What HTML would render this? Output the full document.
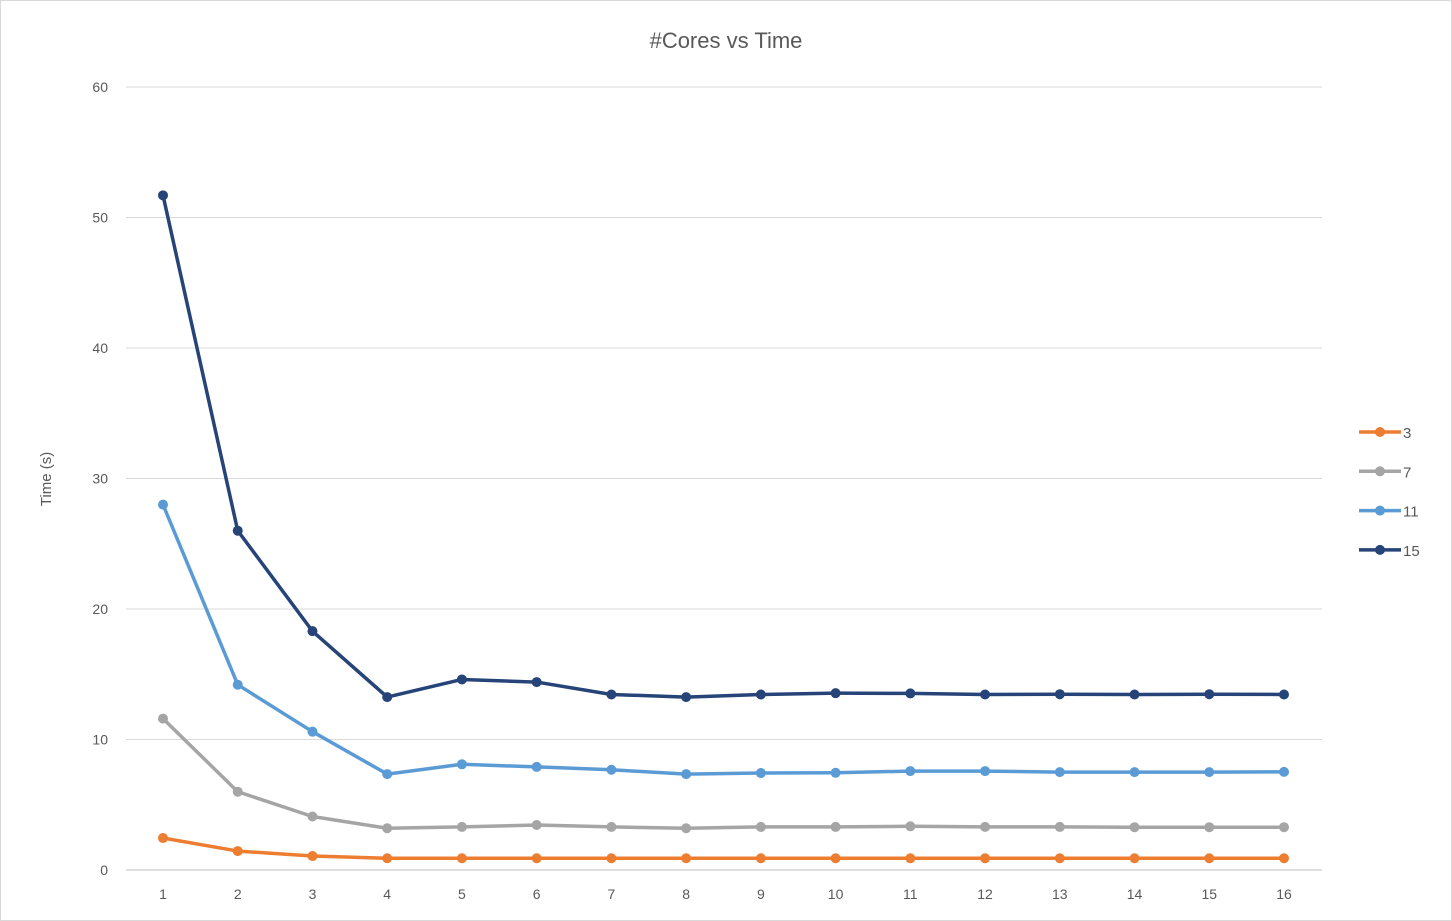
<!DOCTYPE html>
<html><head><meta charset="utf-8"><style>
body{margin:0;background:#fff;}
svg{display:block;font-family:"Liberation Sans",sans-serif;}
</style></head><body>
<svg id="chart" width="1452" height="921">
<rect x="0.5" y="0.5" width="1451" height="920" fill="#fff" stroke="#d9d9d9"/>
<text x="726" y="48" text-anchor="middle" font-size="22" fill="#595959">#Cores vs Time</text>
<text transform="translate(51,479) rotate(-90)" text-anchor="middle" font-size="15" fill="#595959">Time (s)</text>
<g id="grid"></g><g id="series"></g><g id="legend"></g>
</svg>
<script>
const categories=[1,2,3,4,5,6,7,8,9,10,11,12,13,14,15,16];
const yTicks=[0,10,20,30,40,50,60];
const seriesNames=["3","7","11","15"];
const s3=[2.45,1.45,1.07,0.9,0.9,0.9,0.9,0.9,0.9,0.9,0.9,0.9,0.9,0.9,0.9,0.9];
const s7=[11.6,6.0,4.1,3.2,3.3,3.45,3.3,3.2,3.3,3.3,3.35,3.3,3.3,3.28,3.28,3.28];
const s11=[28.0,14.2,10.6,7.35,8.1,7.9,7.68,7.35,7.43,7.45,7.58,7.58,7.5,7.5,7.5,7.52];
const s15=[51.7,26.0,18.3,13.25,14.6,14.4,13.45,13.25,13.45,13.55,13.53,13.45,13.47,13.45,13.47,13.45];
const colors=["#ed7d31","#a5a5a5","#5b9bd5","#264478"];
const NS="http://www.w3.org/2000/svg";
const x0=126,x1=1322,yb=870,yt=87;
const xs=c=>163+(c-1)*(1284-163)/15;
const ys=v=>yb-(v/60)*(yb-yt);
function mk(t,a,p){const e=document.createElementNS(NS,t);for(const k in a)e.setAttribute(k,a[k]);p.appendChild(e);return e;}
const grid=document.getElementById('grid');
yTicks.forEach(t=>{
 const l=mk('line',{x1:x0,x2:x1,y1:ys(t),y2:ys(t),stroke:t===0?'#bfbfbf':'#d9d9d9','stroke-width':1},grid);
 
 
 const tx=mk('text',{x:108,y:ys(t)+5,'text-anchor':'end','font-size':14,fill:'#595959'},grid);
 tx.textContent=t;
 
 
});
categories.forEach(c=>{
 const tx=mk('text',{x:xs(c),y:899,'text-anchor':'middle','font-size':14,fill:'#595959'},grid);
 tx.textContent=c;
 
 
});
const sg=document.getElementById('series');
[s3,s7,s11,s15].forEach((d,i)=>{
 const g=mk('g',{},sg);
 
 
 const pl=mk('polyline',{points:d.map((v,j)=>xs(categories[j])+','+ys(v)).join(' '),fill:'none',stroke:colors[i],'stroke-width':3.5,'stroke-linejoin':'round'},g);
 
 
 d.forEach((v,j)=>{
  const c=mk('circle',{cx:xs(categories[j]),cy:ys(v),r:5,fill:colors[i]},g);
  
  
 });
});
const lg=document.getElementById('legend');
seriesNames.forEach((n,i)=>{
 const y=432+i*39.3;
 const g=mk('g',{},lg);
 
 
 mk('line',{x1:1359,x2:1401,y1:y,y2:y,stroke:colors[i],'stroke-width':3.5},g);
 mk('circle',{cx:1380,cy:y,r:5,fill:colors[i]},g);
 const t=mk('text',{x:1403,y:y+6,'font-size':15,fill:'#595959'},g);
 t.textContent=n;
});
</script>
</body></html>
